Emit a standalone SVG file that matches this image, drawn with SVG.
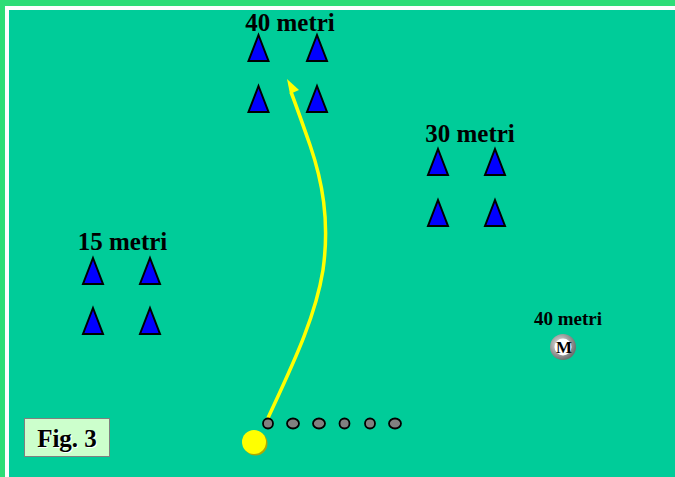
<svg xmlns="http://www.w3.org/2000/svg" width="675" height="477" viewBox="0 0 675 477">
<defs>
<style>
.cone{fill:#0000FF;stroke:#000;stroke-width:2;stroke-linejoin:miter}
.lbl{font-family:"Liberation Serif",serif;font-weight:bold;fill:#000}
.dot{fill:#808080;stroke:#000;stroke-width:1.8}
</style>
<radialGradient id="ring" cx="0.4" cy="0.4" r="0.6">
<stop offset="0" stop-color="#eeeeee"/>
<stop offset="1" stop-color="#707070"/>
</radialGradient>
<symbol id="tri" overflow="visible"><polygon class="cone" points="0,0 10,26 -10,26"/></symbol>
</defs>
<rect x="0" y="0" width="675" height="477" fill="#2EDD77"/>
<rect x="5" y="6" width="670" height="471" fill="#FFFFFF"/>
<rect x="9" y="10" width="666" height="467" fill="#00CC99"/>

<g id="group40">
<text class="lbl" x="290" y="31" font-size="25" text-anchor="middle">40 metri</text>
<use href="#tri" x="258.5" y="35"/>
<use href="#tri" x="317" y="35"/>
<use href="#tri" x="258.5" y="86"/>
<use href="#tri" x="317" y="86"/>
</g>
<g id="group30">
<text class="lbl" x="470" y="142" font-size="25" text-anchor="middle">30 metri</text>
<use href="#tri" x="438" y="149"/>
<use href="#tri" x="495" y="149"/>
<use href="#tri" x="438" y="200"/>
<use href="#tri" x="495" y="200"/>
</g>
<g id="group15">
<text class="lbl" x="122.5" y="250" font-size="25" text-anchor="middle">15 metri</text>
<use href="#tri" x="93" y="258"/>
<use href="#tri" x="150" y="258"/>
<use href="#tri" x="93" y="308"/>
<use href="#tri" x="150" y="308"/>
</g>
<g id="marker40">
<text class="lbl" x="568" y="325" font-size="19" text-anchor="middle">40 metri</text>
<circle cx="563" cy="347" r="13" fill="url(#ring)"/>
<circle cx="563" cy="347" r="8.5" fill="#FFFFFF"/>
<text class="lbl" x="564" y="353" font-size="17" text-anchor="middle">M</text>
</g>
<g id="connectors">
<path d="M268,418 C290,370 315,320 323,270 C330,220 322,180 310,145 C303,125 296,105 291,92" fill="none" stroke="#FFFF00" stroke-width="3.5"/>
<polygon points="287,79 299,90 290,94" fill="#FFFF00"/>
</g>
<g id="dots">
<ellipse class="dot" cx="268" cy="423.5" rx="5" ry="5"/>
<ellipse class="dot" cx="293" cy="423.5" rx="6" ry="5"/>
<ellipse class="dot" cx="319" cy="423.5" rx="6" ry="5"/>
<ellipse class="dot" cx="344.5" cy="423.5" rx="5" ry="5"/>
<ellipse class="dot" cx="370" cy="423.5" rx="5" ry="5"/>
<ellipse class="dot" cx="395" cy="423.5" rx="6" ry="5"/>
</g>
<g id="ball">
<circle cx="255.5" cy="443.5" r="12" fill="#B0A800"/>
<circle cx="254" cy="442" r="12" fill="#FFFF00"/>
</g>
<g id="figlabel">
<rect x="24.5" y="418.5" width="85" height="38" fill="#CCFFCC" stroke="#808080" stroke-width="1"/>
<text class="lbl" x="68" y="448" font-size="25" text-anchor="middle" style="fill:#fff">Fig. 3</text>
<text class="lbl" x="67" y="447" font-size="25" text-anchor="middle">Fig. 3</text>
</g>
</svg>
